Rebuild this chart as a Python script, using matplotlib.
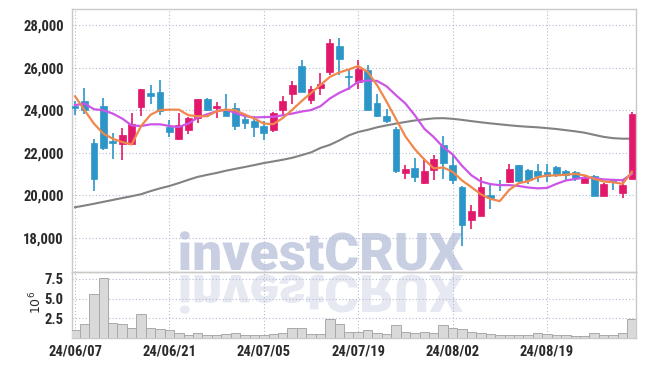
import matplotlib
matplotlib.use('Agg')
import matplotlib.pyplot as plt
from matplotlib import font_manager as fm
from matplotlib.textpath import TextPath
from matplotlib.patches import PathPatch
from matplotlib.font_manager import FontProperties
from matplotlib.transforms import Affine2D
from matplotlib.ticker import FuncFormatter
import pandas as pd

# ---------------- data ----------------
trading_days = [d for d in pd.bdate_range('2024-06-07', '2024-08-30') if d.strftime('%m-%d') != '08-15']
date_labels = [d.strftime('%y/%m/%d') for d in trading_days]

opens = [24200, 24450, 22450, 24200, 22550, 22420, 22400, 24150, 24800, 24850,
         23200, 22620, 23080, 23650, 24520, 24100, 24050, 24100, 23560, 23470,
         23230, 23080, 24020, 24750, 26070, 24460, 25020, 25800, 27010, 25600,
         25330, 25880, 24350, 23720, 23100, 21040, 21300, 20560, 21200, 22340,
         21400, 20380, 18850, 19000, 20000, 20530, 20600, 21400, 21160, 21120,
         21080, 21320, 21120, 21080, 20560, 20900, 19980, 20690, 20110, 20770]
highs = [24430, 25050, 22650, 24550, 22900, 23150, 23850, 25000, 25200, 25400,
         23550, 23880, 23680, 24520, 24560, 24380, 24750, 24350, 23750, 23700,
         23470, 23900, 24650, 25360, 26350, 25150, 25720, 27320, 27370, 25870,
         26350, 26140, 24750, 24070, 23200, 21400, 21760, 21630, 21900, 22800,
         21950, 20420, 19550, 20870, 20550, 20700, 21480, 21430, 21240, 21450,
         21475, 21360, 21200, 21130, 20930, 20960, 20560, 20700, 20770, 23920]
lows = [23750, 23800, 20200, 22100, 21700, 21650, 22380, 23700, 24300, 23750,
        22750, 22600, 22880, 23400, 23950, 23650, 23700, 23080, 23130, 22730,
        22600, 22980, 23750, 24300, 24860, 24270, 24700, 25650, 25650, 24950,
        25000, 24000, 23680, 23390, 21040, 20780, 20640, 20530, 20700, 20770,
        20530, 17620, 18400, 19000, 19360, 20200, 20560, 20620, 20530, 20620,
        20600, 20840, 20690, 20650, 20560, 19980, 19960, 20250, 19880, 20770]
closes = [24120, 24000, 20750, 22200, 22450, 22810, 23330, 24980, 24680, 23950,
          22970, 23280, 23650, 24500, 24000, 24180, 23720, 23250, 23390, 23200,
          22900, 23880, 24430, 25170, 24860, 24970, 25210, 27160, 26400, 25560,
          25930, 24000, 23720, 23480, 21130, 21210, 20840, 21120, 21680, 21500,
          20720, 18600, 19240, 20380, 19880, 20480, 21240, 20650, 20700, 20920,
          20920, 20950, 20960, 20820, 20800, 19980, 20530, 20600, 20490, 23830]

ma5 = [24650, 24000, 23365, 22890, 22655, 22495, 22385, 23250, 23780, 24000,
       24020, 24020, 23760, 23710, 23710, 23945, 24020, 23990, 23790, 23600,
       23365, 23340, 23620, 24010, 24420, 24800, 25180, 25560, 25770, 25910,
       26070, 25800, 25170, 24400, 23580, 22760, 22160, 21680, 21260, 21300,
       21100, 20690, 20375, 20040, 19825, 19720, 20250, 20560, 20655, 20840,
       20925, 20930, 20960, 21000, 20930, 20770, 20640, 20610, 20530, 21100]
ma10 = [24230, 24310, 24040, 23990, 23835, 23600, 23280, 23250, 23330, 23330,
        23250, 23205, 23365, 23650, 23800, 23945, 24020, 23865, 23720, 23650,
        23670, 23680, 23755, 23835, 23930, 24000, 24180, 24545, 24810, 25015,
        25330, 25390, 25370, 25120, 24700, 24310, 23755, 23125, 22730, 22260,
        21920, 21380, 20930, 20640, 20520, 20470, 20470, 20430, 20360, 20320,
        20340, 20530, 20690, 20760, 20830, 20800, 20740, 20720, 20700, 21000]
ma_long = [19430, 19510, 19595, 19685, 19775, 19865, 19950, 20045, 20190, 20320,
           20430, 20570, 20720, 20860, 20955, 21045, 21150, 21240, 21325, 21415,
           21510, 21585, 21665, 21755, 21880, 22010, 22220, 22365, 22575, 22810,
           22970, 23070, 23190, 23280, 23365, 23440, 23510, 23565, 23610, 23620,
           23590, 23540, 23480, 23425, 23375, 23330, 23285, 23245, 23215, 23190,
           23150, 23110, 23055, 23000, 22935, 22835, 22740, 22680, 22655, 22655]
volume_m = [0.96, 1.72, 5.52, 7.63, 1.94, 1.81, 1.30, 2.99, 1.30, 1.09,
            1.02, 0.67, 0.37, 0.67, 0.37, 0.37, 0.54, 0.67, 0.37, 0.37,
            0.40, 0.54, 0.67, 1.30, 1.30, 0.54, 0.54, 2.35, 1.72, 0.80,
            0.78, 0.96, 0.58, 0.46, 1.60, 0.75, 0.58, 0.75, 0.58, 1.60,
            1.22, 1.18, 0.80, 0.58, 0.46, 0.37, 0.37, 0.37, 0.37, 0.58,
            0.46, 0.37, 0.37, 0.24, 0.24, 0.58, 0.37, 0.37, 0.58, 2.35]

price_ticks = [18000, 20000, 22000, 24000, 26000, 28000]
volume_ticks = [2.5, 5.0, 7.5]
watermark = 'investCRUX'

# ---------------- style ----------------
names = {f.name for f in fm.fontManager.ttflist}
tick_family = next((n for n in ['Liberation Sans Narrow', 'Roboto Condensed', 'Liberation Sans'] if n in names), 'DejaVu Sans')
wm_family = 'Roboto' if 'Roboto' in names else 'DejaVu Sans'

UP = '#e2196a'
DOWN = '#2c96c8'
GRID = '#b3bbd2'
SPINE = '#c9c9c9'
TXT = '#2a2a2a'

W, H, DPI = 645, 366, 100
fig = plt.figure(figsize=(W / DPI, H / DPI), dpi=DPI)
fig.patch.set_facecolor('white')

def fr(px_left, px_top, px_right, px_bottom):
    return [px_left / W, 1 - px_bottom / H, (px_right - px_left) / W, (px_bottom - px_top) / H]

ax = fig.add_axes(fr(72, 9, 636, 272.3))
axv = fig.add_axes(fr(72, 272.3, 636, 338), sharex=ax)
for a in (ax, axv):
    a.set_facecolor('none')
    for s in a.spines.values():
        s.set_color(SPINE)
        s.set_linewidth(1.0)
    a.grid(True, color=GRID, linestyle=(0, (1, 2)), linewidth=0.8)
    a.set_axisbelow(True)
    a.tick_params(length=0, colors=TXT, labelsize=10.5)

n = len(closes)
xs = list(range(n))

# candles
for i in xs:
    o, h, l, c = opens[i], highs[i], lows[i], closes[i]
    col = UP if c >= o else DOWN
    ax.vlines(i, l, h, color=col, linewidth=1.2, zorder=3)
    ax.bar(i, max(abs(c - o), 30), bottom=min(o, c), width=0.72, color=col,
           edgecolor=col, linewidth=0.5, zorder=4)

ax.plot(xs, ma_long, color='#828282', linewidth=1.5, zorder=2)
ax.plot(xs, ma10, color='#cc55e8', linewidth=1.6, zorder=5)
ax.plot(xs, ma5, color='#f0874c', linewidth=1.6, zorder=6)

ax.set_ylim(16373, 28752)
ax.set_yticks(price_ticks)
ax.yaxis.set_major_formatter(FuncFormatter(lambda v, p: f'{int(v):,}'))
ax.set_xlim(-0.32, 59.43)
ax.tick_params(axis='x', labelbottom=False)

tick_idx = xs[::10]
axv.set_xticks(tick_idx)
axv.set_xticklabels([date_labels[i] for i in tick_idx])

axv.bar(xs, volume_m, width=1.0, color='#d9d9d9', edgecolor='#a9a9a9', linewidth=0.7, zorder=3)
axv.set_ylim(0, 8.32)
axv.set_yticks(volume_ticks)
axv.set_yticklabels([f'{v:.1f}' for v in volume_ticks])

for a in (ax, axv):
    for lab in a.get_yticklabels() + a.get_xticklabels():
        lab.set_family([tick_family, 'DejaVu Sans'])
        lab.set_fontweight('bold')
ax.tick_params(axis='y', pad=6)
axv.tick_params(axis='y', pad=6)
axv.tick_params(axis='x', pad=5)

fig.text(36 / W, 1 - 302 / H, r'$10^6$', rotation=90, ha='center', va='center',
         fontsize=9, color=TXT)

# watermark with reflection
fp = FontProperties(family=wm_family, weight='black')
tp = TextPath((0, 0), watermark, size=100, prop=fp)
bb = tp.get_extents()
sx = (463 - 180) / bb.width
sy = 37 / 71.1
t_main = Affine2D().translate(-bb.x0, 0).scale(sx, sy).translate(180, H - 270)
t_refl = Affine2D().translate(-bb.x0, 0).scale(sx, -sy).translate(180, H - 275)
fig.add_artist(PathPatch(tp, transform=t_main, facecolor='#c8cfe3', edgecolor='none', zorder=-1))
fig.add_artist(PathPatch(tp, transform=t_refl, facecolor='#e6e9f1', edgecolor='none', zorder=-1))

fig.savefig('out.png', dpi=DPI, facecolor='white')
